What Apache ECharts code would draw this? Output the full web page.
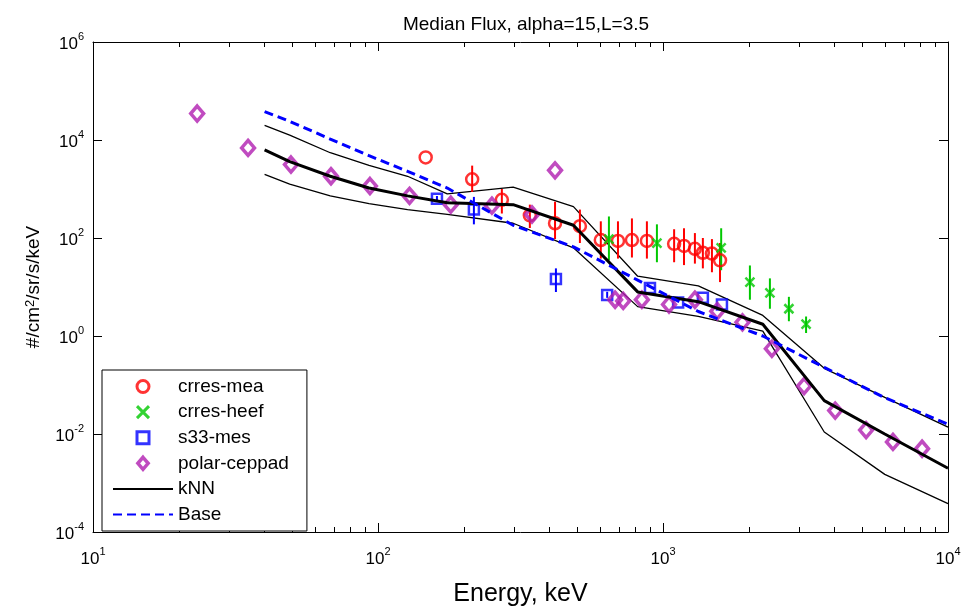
<!DOCTYPE html>
<html>
<head>
<meta charset="utf-8">
<title>Median Flux</title>
<script src="https://cdn.jsdelivr.net/npm/echarts@6.0.0/dist/echarts.min.js"></script>
<style>
  html, body { margin: 0; padding: 0; background: #fff; }
  #chart { width: 965px; height: 612px; }
</style>
</head>
<body>
<div id="chart"></div>
<script>
// energies in keV, fluxes in #/cm2/sr/s/keV
var meaE  = [147, 214, 272, 341, 418, 511, 605, 695, 778, 878, 1094, 1185, 1294, 1380, 1485, 1585]
var meaF  = [4400, 1580, 600, 290, 200, 174, 91, 87, 91, 87, 76, 69, 60, 50, 48, 35]
var meaHi = [null, 3000, 1000, 480, 550, 380, 219, 219, 251, 219, 151, 158, 126, 100, 95, 79]
var meaLo = [null, 870, 316, 160, 95, 79, 38, 38, 40, 38, 32, 28, 30, 24, 20, 12.6]

var heefE  = [646, 952, 1600, 2018, 2372, 2765, 3177]
var heefF  = [95, 79, 63, 12.6, 7.6, 3.6, 1.74]
var heefHi = [275, 190, 158, 27.5, 15, 6.3, 2.5]
var heefLo = [35, 32, 22, 5.5, 3.6, 2.0, 1.15]

var s33E  = [161, 217, 421, 637, 900, 1130, 1380, 1610]
var s33F  = [631, 380, 14.5, 6.9, 9.5, 4.8, 6.0, 4.4]
var s33Hi = [720, 690, 24, 8, null, null, null, null]
var s33Lo = [550, 190, 7.9, 6, null, null, null, null]

var polarE = [23.2, 35, 49.5, 68.4, 93.7, 129, 180, 251, 347, 418, 679, 725, 843, 1050, 1294, 1550, 1900, 2410, 3126, 4020, 5160, 6410, 8110]
var polarF = [34700, 6900, 3160, 1820, 1150, 724, 479, 457, 302, 2400, 5.5, 5.2, 5.5, 4.4, 5.5, 3.2, 1.9, 0.55, 0.095, 0.030, 0.012, 0.0069, 0.0050]

var lineE    = [40, 49, 68, 93, 127, 175, 298, 485, 815, 1330, 2240, 3680, 6000, 10000]
var knnMid   = [6310, 3630, 1820, 1050, 724, 525, 479, 182, 7.94, 5.01, 1.74, 0.0479, 0.01, 0.002]
var knnUpper = [19950, 12590, 5500, 3020, 1820, 794, 1096, 437, 16.6, 10.5, 2.63, 0.219, 0.056, 0.0138]
var knnLower = [1995, 1259, 724, 501, 380, 302, 200, 63, 3.98, 2.51, 1.26, 0.011, 0.0015, 0.00038]
var baseF    = [38000, 24000, 10470, 4790, 2290, 1047, 182, 66, 13.8, 3.16, 1.0, 0.229, 0.055, 0.0158]

var xMajor = [10, 100, 1000, 10000]
var yMajor = [1e-4, 1e-2, 1, 1e2, 1e4, 1e6]
var xMinor = []
;[10, 100, 1000].forEach(function (d) {
  for (var k = 2; k <= 9; k++) xMinor.push(k * d)
})

var FONT = '"Liberation Sans", Arial, sans-serif'
var SQUARE = 'path://M0 0L10 0L10 10L0 10Z'
var DIAMOND = 'path://M6 0L12 7L6 14L0 7Z'
var CROSS = 'path://M0 0L10 10M10 0L0 10'

function zip(xs, ys) {
  return xs.map(function (x, i) { return [x, ys[i]] })
}

function errData(xs, lo, hi) {
  var out = []
  xs.forEach(function (x, i) {
    if (lo[i] != null && hi[i] != null) out.push([x, lo[i], hi[i]])
  })
  return out
}

function errSeries(name, xs, lo, hi, color) {
  return {
    name: name,
    type: 'custom',
    data: errData(xs, lo, hi),
    encode: { x: 0, y: [1, 2] },
    silent: true,
    z: 3,
    renderItem: function (params, api) {
      var x = api.value(0)
      var p1 = api.coord([x, api.value(1)])
      var p2 = api.coord([x, api.value(2)])
      return {
        type: 'line',
        shape: { x1: p1[0], y1: p1[1], x2: p2[0], y2: p2[1] },
        style: { stroke: color, lineWidth: 2 }
      }
    }
  }
}

function powLabel(v) {
  var e = Math.round(Math.log10(v))
  return '{b|10}{s|' + e + '}'
}

var labelRich = {
  b: { fontSize: 17, fontFamily: FONT, color: '#000', lineHeight: 22, verticalAlign: 'bottom' },
  s: { fontSize: 11, fontFamily: FONT, color: '#000', verticalAlign: 'top' }
}

function xAxisDef(pos, ticks, len, labels) {
  return {
    type: 'log',
    logBase: 10,
    min: 10,
    max: 10000,
    position: pos,
    axisLine: { show: labels, lineStyle: { color: '#000', width: 1 } },
    axisTick: { show: true, inside: true, length: len, customValues: ticks, lineStyle: { color: '#000', width: 1 } },
    axisLabel: labels ? {
      show: true, customValues: xMajor, formatter: powLabel, rich: labelRich, margin: 14
    } : { show: false },
    splitLine: { show: false },
    minorTick: { show: false }
  }
}

var chart = echarts.init(document.getElementById('chart'))

chart.setOption({
  animation: false,
  backgroundColor: '#fff',
  textStyle: { fontFamily: FONT },
  title: {
    text: 'Median Flux, alpha=15,L=3.5',
    left: 521,
    top: 10,
    textAlign: 'center',
    textStyle: { fontSize: 19, fontWeight: 'normal', color: '#000', fontFamily: FONT }
  },
  grid: { left: 93, right: 17, top: 42, bottom: 70, containLabel: false },
  legend: {
    orient: 'vertical',
    left: 102,
    top: 370,
    padding: [7, 18, 7, 10],
    itemWidth: 60,
    itemHeight: 12,
    itemGap: 6.6,
    symbolKeepAspect: true,
    backgroundColor: '#fff',
    borderColor: '#000',
    borderWidth: 1,
    borderRadius: 0,
    textStyle: { fontSize: 19, color: '#000', fontFamily: FONT },
    data: [
      { name: 'crres-mea', itemStyle: { borderWidth: 3 } },
      { name: 'crres-heef', itemStyle: { borderWidth: 3 } },
      { name: 's33-mes', itemStyle: { borderWidth: 3 } },
      { name: 'polar-ceppad', itemStyle: { borderWidth: 3.5 } },
      { name: 'kNN', itemStyle: { opacity: 0 } },
      { name: 'Base', itemStyle: { opacity: 0 } }
    ]
  },
  xAxis: [
    Object.assign(xAxisDef('bottom', xMajor, 9, true), {
      name: 'Energy, keV',
      nameLocation: 'middle',
      nameGap: 50,
      nameTextStyle: { fontSize: 25, color: '#000', fontFamily: FONT }
    }),
    xAxisDef('bottom', xMinor, 5, false),
    Object.assign(xAxisDef('top', xMajor, 9, false), { axisLine: { show: true, lineStyle: { color: '#000' } } }),
    xAxisDef('top', xMinor, 5, false)
  ],
  yAxis: [
    {
      type: 'log',
      logBase: 10,
      min: 1e-4,
      max: 1e6,
      position: 'left',
      name: '#/cm{s|2}/sr/s/keV',
      nameLocation: 'middle',
      nameGap: 50,
      nameTextStyle: {
        fontSize: 19, color: '#000', fontFamily: FONT,
        rich: {
          s: { fontSize: 13, fontFamily: FONT, color: '#000', verticalAlign: 'top' }
        }
      },
      axisLine: { show: true, lineStyle: { color: '#000', width: 1 } },
      axisTick: { show: true, inside: true, length: 9, customValues: yMajor, lineStyle: { color: '#000' } },
      axisLabel: { customValues: yMajor, formatter: powLabel, rich: labelRich, margin: 9 },
      splitLine: { show: false },
      minorTick: { show: false }
    },
    {
      type: 'log',
      logBase: 10,
      min: 1e-4,
      max: 1e6,
      position: 'right',
      axisLine: { show: true, lineStyle: { color: '#000', width: 1 } },
      axisTick: { show: true, inside: true, length: 9, customValues: yMajor, lineStyle: { color: '#000' } },
      axisLabel: { show: false },
      splitLine: { show: false },
      minorTick: { show: false }
    }
  ],
  series: [
    {
      name: 'kNN-upper', type: 'line', data: zip(lineE, knnUpper), symbol: 'none', z: 2,
      lineStyle: { color: '#000', width: 1.3 }, itemStyle: { color: '#000' }
    },
    {
      name: 'kNN-lower', type: 'line', data: zip(lineE, knnLower), symbol: 'none', z: 2,
      lineStyle: { color: '#000', width: 1.3 }, itemStyle: { color: '#000' }
    },
    errSeries('mea-err', meaE, meaLo, meaHi, '#ff0000'),
    errSeries('heef-err', heefE, heefLo, heefHi, '#00c800'),
    errSeries('s33-err', s33E, s33Lo, s33Hi, '#0000ff'),
    {
      name: 'crres-mea', type: 'scatter', data: zip(meaE, meaF), symbol: 'circle', symbolSize: 12, z: 4,
      symbolKeepAspect: true,
      itemStyle: { color: 'rgba(255,255,255,0)', borderColor: '#ff0000', borderWidth: 2.5 }
    },
    {
      name: 'crres-heef', type: 'scatter', data: zip(heefE, heefF), symbol: CROSS, symbolSize: 9, z: 4,
      symbolKeepAspect: true,
      itemStyle: { color: 'rgba(255,255,255,0)', borderColor: '#00c800', borderWidth: 2.5 }
    },
    {
      name: 's33-mes', type: 'scatter', data: zip(s33E, s33F), symbol: SQUARE, symbolSize: 10, z: 4,
      symbolKeepAspect: true,
      itemStyle: { color: 'rgba(255,255,255,0)', borderColor: '#0000ff', borderWidth: 2.5 }
    },
    {
      name: 'polar-ceppad', type: 'scatter', data: zip(polarE, polarF), symbol: DIAMOND, symbolSize: 15, z: 4,
      symbolKeepAspect: true,
      itemStyle: { color: 'rgba(255,255,255,0)', borderColor: '#b01eb0', borderWidth: 3.5 }
    },
    {
      name: 'kNN', type: 'line', data: zip(lineE, knnMid), symbol: 'none', z: 5,
      lineStyle: { color: '#000', width: 3 }, itemStyle: { color: '#000' }
    },
    {
      name: 'Base', type: 'line', data: zip(lineE, baseF), symbol: 'none', z: 5,
      lineStyle: { color: '#0000ff', width: 3, type: [9, 5] }, itemStyle: { color: '#0000ff' }
    }
  ]
})
</script>
</body>
</html>
